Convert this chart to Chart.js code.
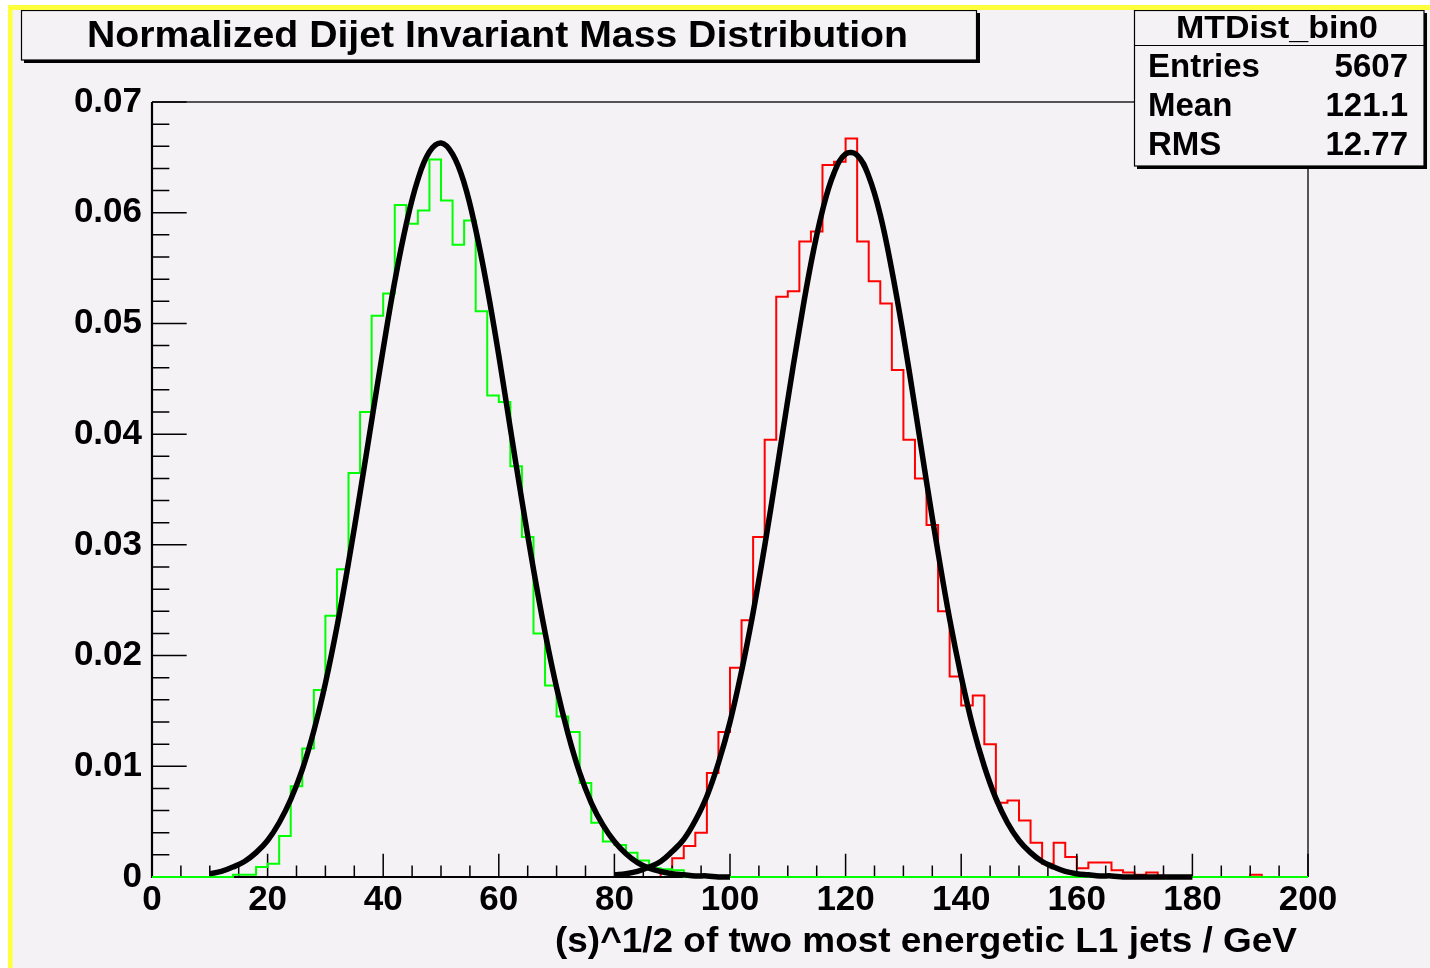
<!DOCTYPE html>
<html>
<head>
<meta charset="utf-8">
<script src="https://cdn.jsdelivr.net/npm/chart.js@4.4.1/dist/chart.umd.min.js"></script>
<style>
html,body{margin:0;padding:0;background:#ffffff;}
#wrap{position:relative;width:1430px;height:968px;}
</style>
</head>
<body>
<div id="wrap"><canvas id="c"></canvas></div>
<script>
// ---------------- data ----------------
const xTickLabels = ['0','20','40','60','80','100','120','140','160','180','200'];
const yTickLabels = ['0','0.01','0.02','0.03','0.04','0.05','0.06','0.07'];
const xMin = 0, xMax = 200, yMin = 0, yMax = 0.07;
const binWidth = 2;

// green histogram (lower bin edges, normalized contents)
const greenBinLow = [14,16,18,20,22,24,26,28,30,32,34,36,38,40,42,44,46,48,50,52,54,56,58,60,62,64,66,68,70,72,74,76,78,80,82,84,86,88,90];
const greenValues = [0.0002,0.0002,0.0009,0.0012,0.0037,0.0082,0.0116,0.0169,0.0236,0.0278,
                     0.0365,0.0420,0.0507,0.0527,0.0607,0.0590,0.0602,0.0648,0.0611,0.0571,
                     0.0593,0.0511,0.0435,0.0429,0.0371,0.0307,0.0220,0.0173,0.0145,0.0131,
                     0.0085,0.0049,0.0032,0.0029,0.0022,0.0015,0.0008,0.0007,0.0006];

// red histogram
const redBinLow = [88,90,92,94,96,98,100,102,104,106,108,110,112,114,116,118,120,122,124,126,128,130,132,134,136,138,140,142,144,146,148,150,152,154,156,158,160,162,164,166,168,170,172,174,176,178,180,182,184,186,188,190];
const redValues = [0.0004,0.0017,0.0028,0.0040,0.0094,0.0131,0.0189,0.0232,0.0307,0.0395,
                   0.0524,0.0529,0.0574,0.0583,0.0643,0.0646,0.0667,0.0574,0.0538,0.0518,
                   0.0458,0.0395,0.0360,0.0318,0.0240,0.0181,0.0155,0.0164,0.0120,0.0067,
                   0.0069,0.0051,0.0031,0.0012,0.0031,0.0018,0.0008,0.0013,0.0013,0.0006,
                   0.0004,0.0002,0.0004,0,0,0,0,0,0,0,0,0.0002];

// fitted curves
const fit1X = [10,12,14,16,18,20,22,24,26,28,30,32,34,36,38,40,42,44,46,48,50,52,54,56,58,60,62,64,66,68,70,72,74,76,78,80,82,84,86,88,90,92,94,96,98,100];
const fit1Y = [0.0003,0.0005,0.0009,0.0014,0.0022,0.0033,0.0049,0.0070,0.0097,0.0132,
               0.0175,0.0226,0.0284,0.0347,0.0412,0.0477,0.0538,0.0590,0.0630,0.0655,
               0.0663,0.0653,0.0627,0.0585,0.0532,0.0471,0.0405,0.0340,0.0278,0.0221,
               0.0171,0.0129,0.0094,0.0067,0.0047,0.0032,0.0021,0.0013,0.0008,0.0005,
               0.0003,0.0002,0.0001,0.0001,0,0];
const fit2X = [80,82,84,86,88,90,92,94,96,98,100,102,104,106,108,110,112,114,116,118,120,122,124,126,128,130,132,134,136,138,140,142,144,146,148,150,152,154,156,158,160,162,164,166,168,170,172,174,176,178,180];
const fit2Y = [0.0002,0.0003,0.0005,0.0009,0.0014,0.0023,0.0034,0.0051,0.0073,0.0103,
               0.0140,0.0186,0.0239,0.0299,0.0364,0.0431,0.0495,0.0554,0.0602,0.0636,
               0.0653,0.0652,0.0633,0.0598,0.0548,0.0489,0.0424,0.0357,0.0293,0.0233,
               0.0181,0.0136,0.0100,0.0071,0.0049,0.0033,0.0022,0.0014,0.0009,0.0005,
               0.0003,0.0002,0.0001,0.0001,0,0,0,0,0,0,0];

const titleText = 'Normalized Dijet Invariant Mass Distribution';
const xAxisTitle = '(s)^1/2 of two most energetic L1 jets / GeV';
const statsName = 'MTDist_bin0';
const statsLabels = ['Entries','Mean','RMS'];
const statsValues = ['5607','121.1','12.77'];

// ---------------- helpers ----------------
const BG = '#f5f2f6';
const FONT = '"Liberation Sans", Arial, Helvetica, sans-serif';

function histPoints(lows, vals){
  const pts = [{x:xMin, y:0}];
  lows.forEach((b,i)=>pts.push({x:b, y:vals[i]}));
  pts.push({x:lows[lows.length-1]+binWidth, y:0});
  pts.push({x:xMax, y:0});
  return pts;
}
function curvePoints(xs, ys){ return xs.map((x,i)=>({x:x, y:ys[i]})); }

function fitText(ctx, text, x, y, w, align, size){
  ctx.save();
  ctx.font = 'bold ' + size + 'px ' + FONT;
  const m = ctx.measureText(text).width;
  const s = w / m;
  ctx.translate(x, y);
  ctx.scale(s, 1);
  ctx.textAlign = align;
  ctx.textBaseline = 'alphabetic';
  ctx.fillStyle = '#000';
  ctx.fillText(text, 0, 0);
  ctx.restore();
}
function plainText(ctx, text, x, y, align, size){
  ctx.save();
  ctx.font = 'bold ' + size + 'px ' + FONT;
  ctx.textAlign = align;
  ctx.textBaseline = 'alphabetic';
  ctx.fillStyle = '#000';
  ctx.fillText(text, x, y);
  ctx.restore();
}

function drawAxes(chart){
  const ctx = chart.ctx;
  const a = chart.chartArea;
  const xs = chart.scales.x, ys = chart.scales.y;
  ctx.save();
  ctx.strokeStyle = '#222';
  ctx.lineWidth = 1.5;
  ctx.beginPath();
  ctx.moveTo(a.left, a.top); ctx.lineTo(a.right, a.top); ctx.lineTo(a.right, a.bottom);
  ctx.stroke();
  ctx.strokeStyle = '#000';
  ctx.lineWidth = 2.2;
  ctx.beginPath();
  ctx.moveTo(a.left, a.top); ctx.lineTo(a.left, a.bottom); ctx.lineTo(a.right, a.bottom);
  ctx.stroke();
  ctx.lineWidth = 1.5;
  ctx.beginPath();
  const yMajorLen = 0.03 * (a.right - a.left), yMinorLen = yMajorLen / 2;
  for (let k = 0; k <= 35; k++) {
    const p = ys.getPixelForValue(k * 0.002);
    const len = (k % 5 === 0) ? yMajorLen : yMinorLen;
    ctx.moveTo(a.left, p); ctx.lineTo(a.left + len, p);
  }
  const xMajorLen = 0.03 * (a.bottom - a.top), xMinorLen = xMajorLen / 2;
  for (let k = 0; k <= 40; k++) {
    const p = xs.getPixelForValue(k * 5);
    const len = (k % 4 === 0) ? xMajorLen : xMinorLen;
    ctx.moveTo(p, a.bottom); ctx.lineTo(p, a.bottom - len);
  }
  ctx.stroke();
  ctx.restore();
}

const rootPlugin = {
  id: 'rootStyle',
  beforeDraw(chart){
    const ctx = chart.ctx;
    ctx.save();
    ctx.fillStyle = '#ffffff';
    ctx.fillRect(0, 0, chart.width, chart.height);
    ctx.fillStyle = BG;
    ctx.fillRect(8, 5, chart.width - 8, chart.height - 5);
    ctx.restore();
  },
  afterDatasetDraw(chart, args){
    // ROOT paints the axes right after the first histogram (red); the rest go on top
    if (args.meta.label === 'red') drawAxes(chart);
  },
  afterDraw(chart){
    const ctx = chart.ctx;
    ctx.save();
    // title box
    ctx.fillStyle = '#000';
    ctx.fillRect(24, 60, 956, 3);
    ctx.fillRect(977, 13, 3, 50);
    ctx.fillStyle = BG;
    ctx.fillRect(21, 10, 956, 50);
    ctx.strokeStyle = '#000';
    ctx.lineWidth = 1.2;
    ctx.strokeRect(21.5, 10.5, 955, 49.5);
    fitText(ctx, titleText, 497.5, 47, 821, 'center', 36);

    // stats box
    ctx.fillStyle = '#000';
    ctx.fillRect(1137, 166, 290, 3);
    ctx.fillRect(1424, 13, 3, 156);
    ctx.fillStyle = BG;
    ctx.fillRect(1134, 10, 290, 156);
    ctx.strokeStyle = '#000';
    ctx.lineWidth = 1.2;
    ctx.strokeRect(1134.5, 10.5, 289.5, 155.5);
    ctx.beginPath(); ctx.moveTo(1134, 45.5); ctx.lineTo(1424, 45.5); ctx.stroke();
    fitText(ctx, statsName, 1277, 38, 202, 'center', 31);
    const rowBase = [77, 116, 155];
    statsLabels.forEach((t,i)=>plainText(ctx, t, 1148, rowBase[i], 'left', 33));
    statsValues.forEach((t,i)=>plainText(ctx, t, 1408, rowBase[i], 'right', 33));

    // x axis title
    fitText(ctx, xAxisTitle, 1297, 952, 742, 'right', 35);

    // yellow frame
    ctx.fillStyle = '#ffff3c';
    ctx.fillRect(8, 5, chart.width - 8, 5);
    ctx.fillRect(8, 5, 4.5, chart.height - 5);
    ctx.restore();
  }
};

const tickFont = {family: FONT, size: 35, weight: 'bold'};

new Chart(document.getElementById('c'), {
  type: 'line',
  data: {
    datasets: [
      {label:'fit1', data: curvePoints(fit1X, fit1Y), borderColor:'#000', borderWidth:5.5,
       tension:0.4, pointRadius:0, fill:false, clip:false},
      {label:'fit2', data: curvePoints(fit2X, fit2Y), borderColor:'#000', borderWidth:5.5,
       tension:0.4, pointRadius:0, fill:false, clip:false},
      {label:'green', data: histPoints(greenBinLow, greenValues), borderColor:'#00ff00', borderWidth:2,
       stepped:'before', pointRadius:0, fill:false, borderJoinStyle:'miter', clip:false},
      {label:'red', data: histPoints(redBinLow, redValues), borderColor:'#ff0000', borderWidth:2,
       stepped:'before', pointRadius:0, fill:false, borderJoinStyle:'miter', clip:false}
    ]
  },
  options: {
    responsive: true,
    maintainAspectRatio: false,
    animation: false,
    layout: {padding: {left: 0, right: 122, top: 102, bottom: 0}},
    plugins: {legend: {display: false}, tooltip: {enabled: false}, title: {display: false}},
    elements: {point: {radius: 0}},
    scales: {
      x: {
        type: 'linear', min: xMin, max: xMax,
        grid: {display: false, drawTicks: false},
        border: {display: false},
        ticks: {stepSize: 20, padding: 2, maxRotation: 0, autoSkip: false, color: '#000', font: tickFont,
                callback: (v) => xTickLabels[Math.round(v / 20)]},
        afterFit(s){ s.height = 91; }
      },
      y: {
        type: 'linear', min: yMin, max: yMax,
        grid: {display: false, drawTicks: false},
        border: {display: false},
        ticks: {stepSize: 0.01, padding: 10, color: '#000', font: tickFont,
                callback: (v) => yTickLabels[Math.round(v / 0.01)]},
        afterFit(s){ s.width = 152; }
      }
    }
  },
  plugins: [rootPlugin]
});
</script>
</body>
</html>
